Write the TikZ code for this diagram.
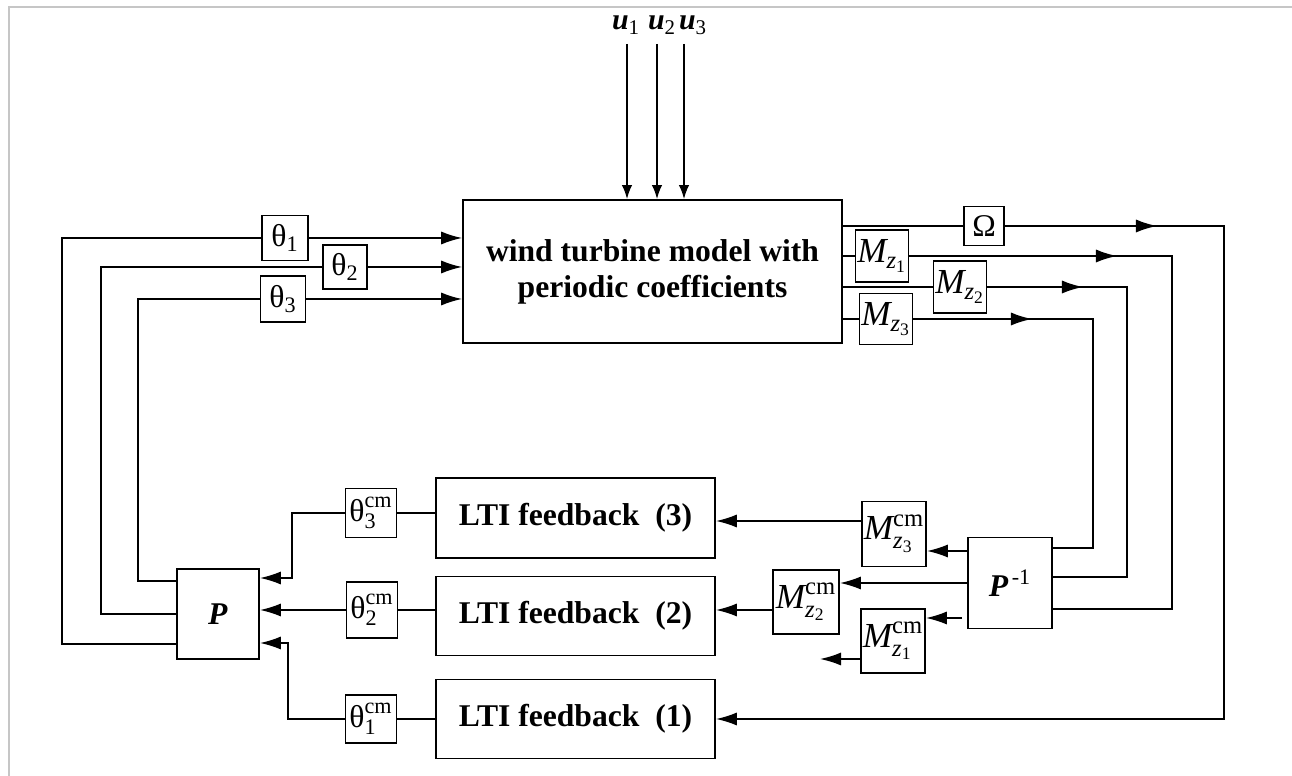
\documentclass[tikz,border=0pt]{standalone}
\usepackage{amsmath}
\usepackage{fontspec}
\setmainfont{Liberation Serif}
\usetikzlibrary{arrows.meta, positioning, calc}

\begin{document}
\begin{tikzpicture}[x=0.02cm, y=-0.02cm,
    blk/.style={draw=black, line width=1pt, inner sep=0pt, font=\fontsize{18}{20}\selectfont},
    mbk/.style={blk, font=\fontsize{20}{22}\selectfont},
    big/.style={font=\bfseries\fontsize{18}{20.5}\selectfont, align=center},
    wire/.style={line width=1pt},
    edge/.style={-{Latex[length=12pt, width=7.5pt]}, line width=1pt},
    thin edge/.style={-{Latex[length=8pt, width=6pt]}, line width=1pt}
]
\useasboundingbox (0,0) rectangle (1292,776);
\draw[gray!45, line width=0.6pt] (9,776) -- (9,7) -- (1292,7);

% plant and input signals
\node[blk, big, minimum width=7.58cm, minimum height=2.86cm] (mdl) at (652.5,271.5) {wind turbine model with\\periodic coefficients};
\node[font=\fontsize{17}{20}\selectfont] (lu1) at (626,25) {$\textbf{\textit{u}}_{\text{1}}$};
\node[font=\fontsize{17}{20}\selectfont] (lu2) at (662,25) {$\textbf{\textit{u}}_{\text{2}}$};
\node[font=\fontsize{17}{20}\selectfont] (lu3) at (693,25) {$\textbf{\textit{u}}_{\text{3}}$};
\node[blk, minimum width=0.92cm, minimum height=0.9cm] (th1) at (285,238) {$\text{θ}_{\text{1}}$};
\node[blk, minimum width=0.88cm, minimum height=0.88cm] (th2) at (345,267) {$\text{θ}_{\text{2}}$};
\node[blk, minimum width=0.9cm, minimum height=0.92cm] (th3) at (283,299) {$\text{θ}_{\text{3}}$};
\node[blk, minimum width=0.8cm, minimum height=0.78cm] (om) at (984,226) {Ω};
\node[mbk, minimum width=1.06cm, minimum height=1.04cm] (mz1) at (882,256) {$\textit{M}_{\textit{z}_{\text{1}}}$};
\node[mbk, minimum width=1.06cm, minimum height=1.04cm] (mz2) at (960,287) {$\textit{M}_{\textit{z}_{\text{2}}}$};
\node[mbk, minimum width=1.06cm, minimum height=1.02cm] (mz3) at (886,319) {$\textit{M}_{\textit{z}_{\text{3}}}$};

% transformations and LTI loops
\node[blk, minimum width=1.64cm, minimum height=1.8cm] (p) at (218,614) {$\textbf{\textit{P}}$};
\node[blk, minimum width=1.68cm, minimum height=1.82cm] (pinv) at (1010,583) {$\textbf{\textit{P}}^{\,\text{-1}}$};
\node[mbk, minimum width=1.28cm, minimum height=1.3cm] (mz3c) at (894,534) {$\textit{M}^{\text{cm}}_{\textit{z}_{\text{3}}}$};
\node[mbk, minimum width=1.32cm, minimum height=1.28cm] (mz2c) at (806,602) {$\textit{M}^{\text{cm}}_{\textit{z}_{\text{2}}}$};
\node[mbk, minimum width=1.28cm, minimum height=1.28cm] (mz1c) at (893,641) {$\textit{M}^{\text{cm}}_{\textit{z}_{\text{1}}}$};
\node[blk, minimum width=1.02cm, minimum height=0.98cm] (ct3) at (371,513) {$\text{θ}^{\text{cm}}_{\text{3}}$};
\node[blk, minimum width=1.02cm, minimum height=1.12cm] (ct2) at (372,610) {$\text{θ}^{\text{cm}}_{\text{2}}$};
\node[blk, minimum width=1.02cm, minimum height=0.96cm] (ct1) at (371,719) {$\text{θ}^{\text{cm}}_{\text{1}}$};
\node[blk, big, minimum width=5.58cm, minimum height=1.6cm] (lti3) at (575.5,518) {LTI feedback~~(3)};
\node[blk, big, minimum width=5.58cm, minimum height=1.58cm] (lti2) at (575.5,616) {LTI feedback~~(2)};
\node[blk, big, minimum width=5.58cm, minimum height=1.58cm] (lti1) at (575.5,719) {LTI feedback~~(1)};

% inputs
\foreach \i/\x in {1/627, 2/657, 3/684} {
  \coordinate (s\i) at (\x,44);
  \draw[thin edge] (s\i) -- (s\i |- mdl.north);
}

% pitch angles back into the plant
\coordinate (l1) at (62,0);
\coordinate (l2) at (101,0);
\coordinate (l3) at (138,0);
\draw[wire] ([yshift=-0.6cm]p.west) -| (th1 -| l1) -- (th1);
\draw[wire] (p.west) -| (th2 -| l2) -- (th2);
\draw[wire] ([yshift=0.66cm]p.west) -| (th3 -| l3) -- (th3);
\foreach \t in {th1,th2,th3} \draw[edge] (\t) -- (\t -| mdl.west);

% plant outputs
\foreach \m in {om,mz1,mz2,mz3} \draw[wire] (\m -| mdl.east) -- (\m);
\coordinate (a0) at (1157,226);
\coordinate (a1) at (1117,256);
\coordinate (a2) at (1083,287);
\coordinate (a3) at (1032,319);
\draw[edge] (om) -- (a0);
\draw[edge] (mz1) -- (a1);
\draw[edge] (mz2) -- (a2);
\draw[edge] (mz3) -- (a3);
\coordinate (r0) at (1224,0);
\coordinate (r1) at (1172,0);
\coordinate (r2) at (1127,0);
\coordinate (r3) at (1093,0);
\coordinate (q1) at ([yshift=-0.52cm]pinv.east);
\coordinate (q2) at ([yshift=0.12cm]pinv.east);
\coordinate (q3) at ([yshift=0.7cm]pinv.east);
\draw[edge] (om) -- (a0) -| (r0 |- lti1) -- (lti1);
\draw[wire] (mz1) -- (a1) -| (r1 |- q1) -- (q1);
\draw[wire] (mz2) -- (a2) -| (r2 |- q2) -- (q2);
\draw[wire] (mz3) -- (a3) -| (r3 |- q3) -- (q3);

% rotating frame to LTI blocks
\coordinate (w3) at ([yshift=0.64cm]pinv.west);
\coordinate (w1) at ([yshift=-0.7cm]pinv.west);
\draw[edge] (w3) -- (w3 -| mz3c.east);
\draw[edge] (pinv.west) -- (pinv.west -| mz2c.east);
\draw[edge] ([xshift=-0.1cm]w1) -- (w1 -| mz1c.east);
\coordinate (c3) at ([yshift=0.26cm]mz3c.west);
\coordinate (c2) at ([yshift=-0.16cm]mz2c.west);
\coordinate (c1) at ([yshift=-0.36cm]mz1c.west);
\coordinate (m1end) at (820,0);
\draw[edge] (c3) -- (c3 -| lti3.east);
\draw[edge] (c2) -- (c2 -| lti2.east);
\draw[edge] (c1) -- (c1 -| m1end);

% LTI blocks back through P
\foreach \i in {1,2,3} \draw[wire] (lti\i.west |- ct\i) -- (ct\i);
\coordinate (k3) at (292,0);
\coordinate (k1) at (288,0);
\coordinate (pe3) at ([yshift=0.72cm]p.east);
\coordinate (pe1) at ([yshift=-0.58cm]p.east);
\draw[edge] (ct3) -| (k3 |- pe3) -- (pe3);
\draw[edge] (ct2) -- (ct2 -| p.east);
\draw[edge] (ct1) -| (k1 |- pe1) -- (pe1);
\end{tikzpicture}
\end{document}
